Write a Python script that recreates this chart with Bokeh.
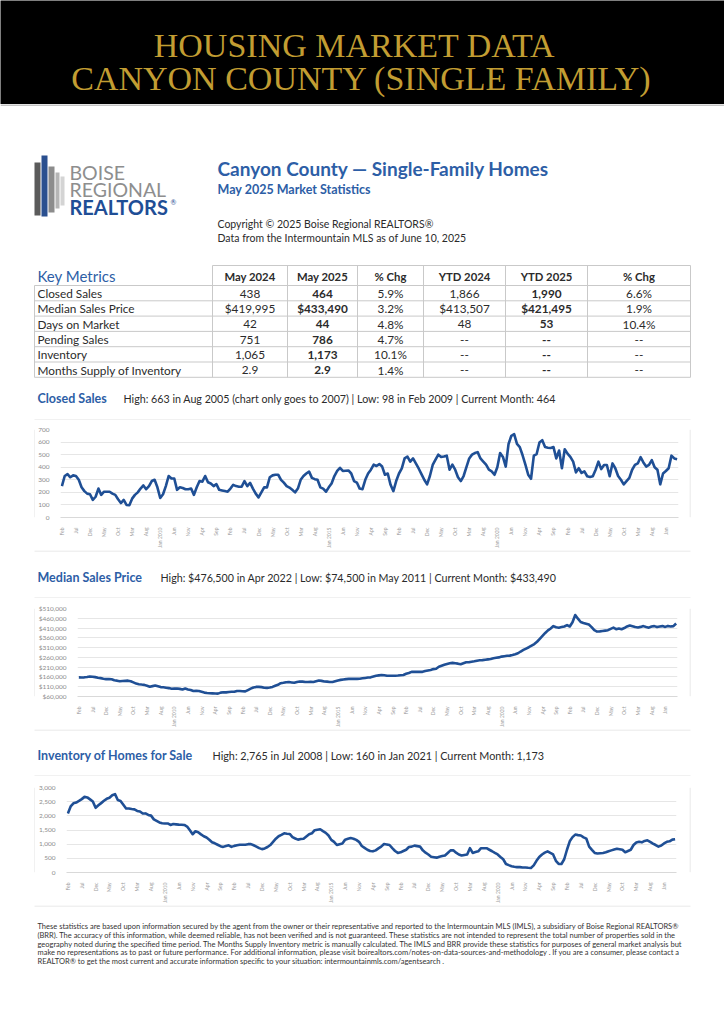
import math
from bokeh.plotting import figure
from bokeh.layouts import column, row
from bokeh.models import Range1d, FixedTicker, NumeralTickFormatter
from bokeh.core.properties import value
from bokeh.embed import file_html
from bokeh.resources import INLINE

# ---------------- data (monthly, Feb 2007 .. May 2025) ----------------
closed_sales = [
    250, 330, 345, 320, 335, 330, 300, 240, 210, 190, 185,            # 2007 Feb-Dec
    140, 165, 230, 180, 205, 205, 205, 190, 180, 145, 115, 140,       # 2008
    100, 98, 150, 180, 200, 230, 255, 225, 250, 290, 300, 240,        # 2009
    155, 185, 250, 330, 310, 310, 220, 240, 235, 225, 225, 230,       # 2010
    180, 240, 290, 285, 330, 280, 270, 250, 265, 220, 215, 210,       # 2011
    205, 230, 260, 250, 245, 245, 290, 250, 275, 230, 190, 160,       # 2012
    200, 240, 240, 320, 335, 340, 340, 300, 277, 250, 238, 220,       # 2013
    200, 230, 300, 330, 350, 365, 315, 305, 300, 240, 230, 205,       # 2014
    240, 270, 330, 370, 395, 370, 372, 374, 350, 290, 278, 230,       # 2015
    225, 300, 350, 380, 420, 410, 425, 405, 340, 350, 260, 210,       # 2016
    290, 350, 390, 470, 485, 444, 470, 430, 390, 345, 300, 264,       # 2017
    330, 418, 460, 500, 482, 485, 492, 380, 420, 380, 320, 290,       # 2018
    330, 400, 470, 500, 513, 520, 470, 445, 420, 380, 367, 340,       # 2019
    400, 513, 482, 405, 585, 650, 663, 585, 560, 495, 420, 340,       # 2020
    308, 492, 505, 597, 615, 560, 555, 553, 560, 470, 533, 392,       # 2021
    543, 508, 482, 444, 359, 392, 354, 367, 328, 323, 328, 380,       # 2022
    444, 385, 418, 418, 328, 430, 392, 330, 300, 264, 290, 315,       # 2023
    380, 418, 430, 480, 438, 405, 418, 456, 400, 380, 264, 350,       # 2024
    370, 392, 492, 470, 464,                                          # 2025 Jan-May
]

median_price = [
    157600, 157000, 158000, 160000, 162500, 161000, 159000, 156000, 154000, 151000, 149000,
    149500, 148000, 143000, 141000, 138000, 139000, 140000, 141000, 138000, 132000, 126000, 123000,
    121000, 119500, 115000, 110000, 113000, 116000, 112000, 108000, 107000, 105000, 103000, 100000,
    100500, 101000, 99000, 96000, 101000, 96000, 93000, 88000, 89000, 88000, 84000, 80000,
    78000, 76500, 76000, 75000, 74500, 80000, 82000, 81000, 83000, 84000, 84000, 88000,
    88000, 87000, 86000, 93000, 100000, 106000, 109000, 109000, 108000, 105000, 104000, 106000,
    109000, 115000, 120000, 128000, 130000, 133000, 134000, 132000, 130000, 134000, 137000, 136000,
    134000, 134000, 135000, 134000, 138000, 142000, 140000, 137000, 136000, 134000, 134000, 138000,
    142000, 145000, 147000, 149000, 150000, 150000, 150000, 150000, 151000, 153000, 155000, 157000,
    158000, 162000, 166000, 168000, 170000, 169000, 166000, 166000, 166000, 166000, 167000, 169000,
    170000, 176000, 180000, 186000, 186000, 186000, 186000, 186000, 190000, 193000, 196000, 200000,
    202000, 212000, 217000, 222000, 226000, 230000, 232000, 230000, 228000, 225000, 230000, 235000,
    235000, 238000, 240000, 243000, 245000, 246000, 248000, 250000, 252000, 256000, 258000, 260000,
    264000, 266000, 268000, 269000, 272000, 276000, 281000, 290000, 298000, 305000, 312000, 320000,
    328000, 340000, 355000, 370000, 385000, 398000, 408000, 420000, 414000, 412000, 415000, 418000,
    425000, 418000, 440000, 476500, 458000, 441000, 436000, 432000, 428000, 415000, 399000, 392000,
    393000, 395000, 397000, 399000, 406000, 412000, 404000, 408000, 404000, 410000, 418000, 423000,
    419000, 415000, 413000, 416000, 419995, 415000, 412000, 418000, 420000, 415000, 418000, 420000,
    416000, 421000, 418000, 420000, 433490,
]

inventory = [
    2085, 2330, 2440, 2470, 2526, 2590, 2669, 2650, 2580, 2504, 2283,
    2371, 2449, 2530, 2600, 2636, 2724, 2765, 2559, 2526, 2394, 2261, 2261,
    2240, 2228, 2173, 2151, 2080, 2085, 2030, 2007, 1875, 1820, 1765, 1740,
    1732, 1732, 1677, 1710, 1699, 1690, 1685, 1677, 1621, 1489, 1350, 1456,
    1423, 1346, 1280, 1235, 1158, 1070, 1030, 980, 930, 904, 938, 960,
    904, 940, 960, 982, 982, 982, 1000, 1003, 960, 914, 860, 825,
    850, 900, 970, 1080, 1193, 1280, 1327, 1383, 1370, 1360, 1249, 1200,
    1160, 1180, 1193, 1271, 1350, 1383, 1494, 1510, 1527, 1460, 1400, 1305,
    1150, 1082, 970, 1000, 1026, 1160, 1190, 1215, 1193, 1150, 1082, 937,
    870, 803, 760, 747, 781, 850, 914, 1003, 990, 970, 858, 760,
    691, 713, 760, 803, 900, 914, 948, 930, 914, 781, 700, 636,
    558, 540, 524, 558, 580, 602, 691, 781, 781, 700, 636, 602,
    620, 636, 858, 691, 720, 747, 858, 858, 858, 803, 750, 691,
    636, 550, 468, 301, 260, 223, 205, 190, 190, 175, 175, 165,
    160, 250, 413, 550, 636, 700, 747, 690, 636, 413, 301, 301,
    468, 803, 1100, 1249, 1338, 1320, 1305, 1240, 1193, 914, 800, 691,
    669, 680, 691, 713, 750, 781, 810, 836, 820, 803, 713, 760,
    803, 970, 1060, 1082, 1065, 1115, 1137, 1082, 1020, 970, 914, 950,
    1026, 1082, 1100, 1160, 1173,
]

month_index = list(range(len(closed_sales)))
tick_positions = list(range(0, 220, 5))
tick_labels = ["Feb", "Jul", "Dec", "May", "Oct", "Mar", "Aug", "Jan 2010", "Jun", "Nov", "Apr",
               "Sep", "Feb", "Jul", "Dec", "May", "Oct", "Mar", "Aug", "Jan 2015", "Jun", "Nov",
               "Apr", "Sep", "Feb", "Jul", "Dec", "May", "Oct", "Mar", "Aug", "Jan 2020", "Jun",
               "Nov", "Apr", "Sep", "Feb", "Jul", "Dec", "May", "Oct", "Mar", "Aug", "Jan"]

closed_ticks = [0, 100, 200, 300, 400, 500, 600, 700]
price_ticks = [60000, 110000, 160000, 210000, 260000, 310000, 360000, 410000, 460000, 510000]
inventory_ticks = [0, 500, 1000, 1500, 2000, 2500, 3000]

table_metrics = ["Closed Sales", "Median Sales Price", "Days on Market", "Pending Sales",
                 "Inventory", "Months Supply of Inventory"]
table_headers = ["May 2024", "May 2025", "% Chg", "YTD 2024", "YTD 2025", "% Chg"]
may_2024 = ["438", "$419,995", "42", "751", "1,065", "2.9"]
may_2025 = ["464", "$433,490", "44", "786", "1,173", "2.9"]
pct_chg_month = ["5.9%", "3.2%", "4.8%", "4.7%", "10.1%", "1.4%"]
ytd_2024 = ["1,866", "$413,507", "48", "--", "--", "--"]
ytd_2025 = ["1,990", "$421,495", "53", "--", "--", "--"]
pct_chg_ytd = ["6.6%", "1.9%", "10.4%", "--", "--", "--"]

footer_lines = [
    "These statistics are based upon information secured by the agent from the owner or their representative and reported to the Intermountain MLS (IMLS), a subsidiary of Boise Regional REALTORS®",
    "(BRR). The accuracy of this information, while deemed reliable, has not been verified and is not guaranteed. These statistics are not intended to represent the total number of properties sold in the",
    "geography noted during the specified time period. The Months Supply Inventory metric is manually calculated. The IMLS and BRR provide these statistics for purposes of general market analysis but",
    "make no representations as to past or future performance. For additional information, please visit boirealtors.com/notes-on-data-sources-and-methodology . If you are a consumer, please contact a",
    "REALTOR® to get the most current and accurate information specific to your situation: intermountainmls.com/agentsearch .",
]

# ---------------- styles ----------------
BLUE = "#2d5ea6"
LINE_BLUE = "#1f4f95"
DARK = "#2b2b2b"
GOLD = "#c29d32"
BOX = "#e2e2e2"
FONT = value("Lato")
W = 724


def band(x0, x1, y_top, y_bot, bg="white"):
    p = figure(width=x1 - x0, height=y_bot - y_top, x_range=Range1d(x0, x1), y_range=Range1d(y_bot, y_top),
               output_backend="svg", toolbar_location=None, min_border=0,
               x_axis_location=None, y_axis_location=None,
               background_fill_color=bg, border_fill_color=bg, outline_line_color=None)
    p.grid.visible = False
    return p


def txt(p, x, y, s, size, color=DARK, bold=False, align="left", font=FONT):
    # y is the vertical middle of the text line
    p.text(x=[x], y=[y], text=[s], text_font=font, text_font_size=f"{size}px", text_color=color,
           text_font_style="bold" if bold else "normal", text_align=align, text_baseline="middle")


def hline(p, y, x0=34, x1=690, color=BOX):
    p.segment(x0=[x0], y0=[y], x1=[x1], y1=[y], line_color=color, line_width=1)


# ---------------- header ----------------
header = band(0, W, 0, 104, bg="black")
txt(header, 354, 45, "HOUSING MARKET DATA", 34, color=GOLD, align="center", font=value("Liberation Serif"))
txt(header, 361, 78, "CANYON COUNTY (SINGLE FAMILY)", 34, color=GOLD, align="center", font=value("Liberation Serif"))

# ---------------- info band (logo, titles, table) ----------------
info = band(0, W, 104, 420)
info.segment(x0=[0], y0=[104.5], x1=[W], y1=[104.5], line_color="#8a8a8a", line_width=1)
info.quad(left=[34, 41, 48, 55, 60], right=[40, 47, 54, 59, 64],
          top=[162, 155, 166, 172, 176], bottom=[215, 216, 212, 208, 205],
          fill_color=["#5b5b5b", "#2a4f8f", "#8c8c8c", "#b5b5b5", "#d4d4d4"], line_color=None)
txt(info, 69, 172, "BOISE", 19.5, color="#8e8e8e")
txt(info, 69, 189, "REGIONAL", 19.5, color="#8e8e8e")
txt(info, 69, 206, "REALTORS", 20, color="#1f4e96", bold=True)
txt(info, 170, 201, "®", 7, color="#1f4e96")

txt(info, 217, 167.5, "Canyon County — Single-Family Homes", 19, color=BLUE, bold=True)
txt(info, 217, 189, "May 2025 Market Statistics", 12.5, color=BLUE, bold=True)
txt(info, 217, 223, "Copyright © 2025 Boise Regional REALTORS®", 10.5, color=DARK)
txt(info, 217, 237, "Data from the Intermountain MLS as of June 10, 2025", 10.5, color=DARK)

col_edges = [212, 287, 357, 423, 505, 587, 690]
row_edges = [285, 300.3, 315.6, 330.9, 346.2, 361.5, 376.8]
GRID = "#c9c9c9"
info.segment(x0=[212], y0=[265], x1=[690], y1=[265], line_color=GRID, line_width=1)
info.segment(x0=[34] * len(row_edges), y0=row_edges, x1=[690] * len(row_edges), y1=row_edges,
             line_color=GRID, line_width=1)
info.segment(x0=col_edges, y0=[265] * len(col_edges), x1=col_edges, y1=[376.8] * len(col_edges),
             line_color=GRID, line_width=1)
info.segment(x0=[34], y0=[285], x1=[34], y1=[376.8], line_color=GRID, line_width=1)

txt(info, 37, 275, "Key Metrics", 15, color=BLUE)
centers = [(a + b) / 2 for a, b in zip(col_edges[:-1], col_edges[1:])]
for c, h in zip(centers, table_headers):
    txt(info, c, 275.5, h, 11.3, bold=True, align="center")
columns_data = [may_2024, may_2025, pct_chg_month, ytd_2024, ytd_2025, pct_chg_ytd]
bold_cols = [False, True, False, False, True, False]
for r, m in enumerate(table_metrics):
    yc = (row_edges[r] + row_edges[r + 1]) / 2 + 0.5
    txt(info, 37, yc, m, 11.8)
    for c, col, b in zip(centers, columns_data, bold_cols):
        txt(info, c, yc, col[r], 11.8, bold=b, align="center")

txt(info, 37, 398, "Closed Sales", 12.5, color=BLUE, bold=True)
txt(info, 123, 398, "High: 663 in Aug 2005 (chart only goes to 2007) | Low: 98 in Feb 2009 | Current Month: 464",
    10.7, color=DARK)
hline(info, 419.5)


# ---------------- charts ----------------
def chart(vals, y0, y1, yticks, fmt, top, bot, fl, fr, ft, fb):
    h = bot - top
    p = figure(width=654, height=h, x_range=Range1d(-0.5, 219.5), y_range=Range1d(y0, y1),
               output_backend="svg", toolbar_location=None,
               min_border_left=fl, min_border_right=fr, min_border_top=ft, min_border_bottom=fb,
               outline_line_color=None, background_fill_color="white", border_fill_color="white")
    p.line(month_index, vals, line_color=LINE_BLUE, line_width=2.6, line_join="round")
    p.xgrid.grid_line_color = None
    p.ygrid.grid_line_color = "#e6e6e6"
    p.yaxis.ticker = FixedTicker(ticks=yticks)
    p.yaxis.formatter = NumeralTickFormatter(format=fmt)
    p.yaxis.axis_line_color = None
    p.yaxis.major_tick_line_color = None
    p.yaxis.minor_tick_line_color = None
    p.yaxis.major_label_text_font_size = "6.5px"
    p.yaxis.major_label_text_color = "#8c8c8c"
    p.yaxis.major_label_text_font = "Lato"
    p.yaxis.major_label_standoff = 5
    p.xaxis.ticker = FixedTicker(ticks=tick_positions)
    p.xaxis.major_label_overrides = {t: l for t, l in zip(tick_positions, tick_labels)}
    p.xaxis.major_label_orientation = math.pi / 2
    p.xaxis.major_label_text_font_size = "5px"
    p.xaxis.major_label_text_color = "#9a9a9a"
    p.xaxis.major_label_text_font = "Lato"
    p.xaxis.major_label_standoff = 4
    p.xaxis.axis_line_color = "#d9d9d9"
    p.xaxis.major_tick_line_color = None
    p.xaxis.minor_tick_line_color = None
    left = band(0, 35, top, bot)
    left.segment(x0=[34.5], y0=[top], x1=[34.5], y1=[bot], line_color=BOX, line_width=1)
    right = band(689, W, top, bot)
    right.segment(x0=[689.5], y0=[top], x1=[689.5], y1=[bot], line_color=BOX, line_width=1)
    return row(left, p, right, spacing=0)


c1 = chart(closed_sales, 0, 700, closed_ticks, "0,0", 420, 550, 23, 11, 9, 30)

b2 = band(0, W, 550, 598)
hline(b2, 550.5)
txt(b2, 37, 577, "Median Sales Price", 12.5, color=BLUE, bold=True)
txt(b2, 160, 577, "High: $476,500 in Apr 2022 | Low: $74,500 in May 2011 | Current Month: $433,490", 10.7, color=DARK)
hline(b2, 597.5)

c2 = chart(median_price, 60000, 510000, price_ticks, "$0,0", 598, 729, 42, 12, 10, 29)

b3 = band(0, W, 729, 776)
hline(b3, 729.5)
txt(b3, 37, 755, "Inventory of Homes for Sale", 12.5, color=BLUE, bold=True)
txt(b3, 212, 755, "High: 2,765 in Jul 2008 | Low: 160 in Jan 2021 | Current Month: 1,173", 10.8, color=DARK)
hline(b3, 775.5)

c3 = chart(inventory, 0, 3000, inventory_ticks, "0,0", 776, 905, 29, 13, 11, 28)

footer = band(0, W, 905, 1024)
hline(footer, 905.5)
for k, line in enumerate(footer_lines):
    txt(footer, 37, 925.7 + k * 8.9, line, 7.5, color="#333333")

page = column(header, info, c1, b2, c2, b3, c3, footer, spacing=0)
open("out.html", "w").write(file_html(page, INLINE))
